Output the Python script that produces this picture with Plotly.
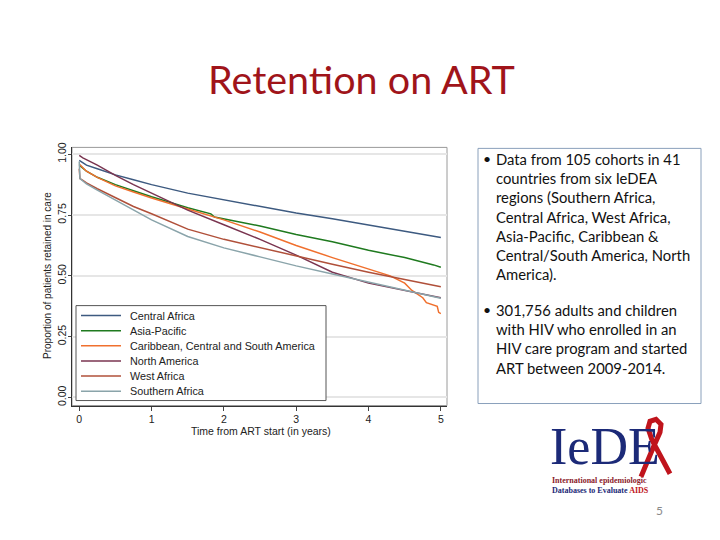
import plotly.graph_objects as go

W, H = 720, 540

# ---- data ----
series_names = ["Central Africa", "Asia-Pacific", "Caribbean, Central and South America",
                "North America", "West Africa", "Southern Africa"]
series_colors = ["#3d5a80", "#1f7a1f", "#f0702e", "#7a3550", "#b0503a", "#8aa4aa"]

central_t = [0, 0.1, 0.25, 0.5, 0.75, 1, 1.5, 2, 2.5, 3, 3.5, 4, 4.5, 5]
central_v = [0.975, 0.955, 0.94, 0.915, 0.895, 0.875, 0.84, 0.812, 0.786, 0.758, 0.735, 0.71, 0.685, 0.658]

asia_t = [0, 0.1, 0.25, 0.5, 0.75, 1, 1.5, 1.82, 1.87, 2, 2.5, 3, 3.5, 4, 4.5, 4.9, 5]
asia_v = [0.955, 0.93, 0.905, 0.875, 0.85, 0.825, 0.78, 0.755, 0.742, 0.735, 0.705, 0.67, 0.64, 0.605, 0.575, 0.545, 0.535]

carib_t = [0, 0.1, 0.25, 0.5, 0.75, 1, 1.5, 2, 2.5, 3, 3.5, 4, 4.3, 4.5, 4.6, 4.75, 4.8, 4.95, 4.97, 5]
carib_v = [0.96, 0.93, 0.905, 0.87, 0.845, 0.82, 0.775, 0.73, 0.68, 0.625, 0.575, 0.53, 0.5, 0.47, 0.44, 0.41, 0.39, 0.375, 0.35, 0.345]

namer_t = [0, 0.05, 0.25, 0.5, 0.75, 1, 1.5, 2, 2.5, 3, 3.5, 4, 4.5, 5]
namer_v = [0.995, 0.985, 0.955, 0.913, 0.875, 0.84, 0.77, 0.71, 0.65, 0.585, 0.515, 0.47, 0.44, 0.41]

west_t = [0, 0.01, 0.05, 0.1, 0.25, 0.5, 0.75, 1, 1.5, 2, 2.5, 3, 3.5, 4, 4.5, 5]
west_v = [0.94, 0.9, 0.892, 0.882, 0.858, 0.822, 0.785, 0.755, 0.692, 0.65, 0.615, 0.582, 0.548, 0.515, 0.485, 0.455]

south_t = [0, 0.01, 0.05, 0.1, 0.25, 0.5, 0.75, 1, 1.5, 2, 2.5, 3, 3.5, 4, 4.5, 5]
south_v = [0.97, 0.9, 0.89, 0.878, 0.852, 0.812, 0.772, 0.73, 0.662, 0.615, 0.578, 0.541, 0.508, 0.475, 0.44, 0.408]

x_ticks = [0, 1, 2, 3, 4, 5]
y_ticks = [0, 0.25, 0.5, 0.75, 1.0]
y_ticklabels = ["0.00", "0.25", "0.50", "0.75", "1.00"]

bullets = [
    "Data from 105 cohorts in 41<br>countries from six IeDEA<br>regions (Southern Africa,<br>Central Africa, West Africa,<br>Asia-Pacific, Caribbean &amp;<br>Central/South America, North<br>America).",
    "301,756 adults and children<br>with HIV who enrolled in an<br>HIV care program and started<br>ART between 2009-2014.",
]

all_t = [central_t, asia_t, carib_t, namer_t, west_t, south_t]
all_v = [central_v, asia_v, carib_v, namer_v, west_v, south_v]


def fx(x):
    return x / W


def fy(y):
    return 1 - y / H


fig = go.Figure()
for name, col, t, v in zip(series_names, series_colors, all_t, all_v):
    fig.add_trace(go.Scatter(x=t, y=v, mode="lines", name=name,
                             line=dict(color=col, width=1.5)))

# plot area: px 72..447 horizontally, 144..405 vertically
fig.update_layout(
    width=W, height=H,
    margin=dict(l=0, r=0, t=0, b=0),
    paper_bgcolor="white", plot_bgcolor="white",
    font=dict(family="Liberation Sans, Arial, sans-serif", color="#222"),
    showlegend=False,
    xaxis=dict(domain=[fx(72), fx(447)], range=[-0.1, 5.085],
               tickvals=x_ticks, ticks="outside", ticklen=4, tickcolor="#444",
               showgrid=False, zeroline=False, showline=True, linecolor="#333",
               linewidth=1, tickfont=dict(size=10.5), fixedrange=True),
    yaxis=dict(domain=[fy(405), fy(144)], range=[-0.033, 1.028],
               tickvals=y_ticks, ticktext=y_ticklabels, tickangle=-90,
               ticks="outside", ticklen=3, tickcolor="#444", ticklabelstandoff=-2,
               showgrid=True, gridcolor="#e6e6e6", gridwidth=1.5,
               zeroline=False, showline=True, linecolor="#333", linewidth=1,
               tickfont=dict(size=10.5), fixedrange=True),
)

shapes = []
# plot frame (top / right)
shapes.append(dict(type="rect", xref="paper", yref="paper",
                   x0=fx(72), x1=fx(447), y0=fy(405), y1=fy(144),
                   line=dict(color="#9a9a9a", width=1), layer="below"))
# legend box
shapes.append(dict(type="rect", xref="paper", yref="paper",
                   x0=fx(76), x1=fx(326), y0=fy(400), y1=fy(304),
                   fillcolor="white", line=dict(color="#555", width=1)))
# text box border
shapes.append(dict(type="rect", xref="paper", yref="paper",
                   x0=fx(478), x1=fx(701), y0=fy(403), y1=fy(145),
                   line=dict(color="#8aa0bb", width=1)))

ann = []
for i, (name, col) in enumerate(zip(series_names, series_colors)):
    yy = 314 + i * 15.3
    shapes.append(dict(type="line", xref="paper", yref="paper",
                       x0=fx(81), x1=fx(121), y0=fy(yy), y1=fy(yy),
                       line=dict(color=col, width=1.5)))
    ann.append(dict(text=name, x=fx(128), y=fy(yy), xref="paper", yref="paper",
                    showarrow=False, xanchor="left", yanchor="middle",
                    font=dict(size=10.8, color="#222")))


def p(points):
    s = ""
    for i, (a, b) in enumerate(points):
        s += ("M" if i == 0 else "L") + f"{fx(a):.5f},{fy(b):.5f} "
    return s


# red ribbon of the logo
shapes.append(dict(type="path", xref="paper", yref="paper",
                   path=p([(641, 477), (653, 448), (660, 432), (661, 424), (656, 419),
                           (650, 421), (648, 428), (652, 440), (660, 455), (670, 474)]),
                   line=dict(color="#c0141c", width=5)))
fig.update_layout(shapes=shapes)

ann.append(dict(text="Retention on ART", x=fx(361), y=fy(74), xref="paper", yref="paper",
                showarrow=False, xanchor="center", yanchor="middle",
                font=dict(family="Lato, sans-serif", size=39.5, color="#a0141a")))
ann.append(dict(text="Proportion of patients retained in care", x=fx(48), y=fy(274),
                xref="paper", yref="paper", showarrow=False, textangle=-90,
                xanchor="center", yanchor="middle", font=dict(size=10, color="#222")))
ann.append(dict(text="Time from ART start (in years)", x=fx(261), y=fy(431),
                xref="paper", yref="paper", showarrow=False,
                xanchor="center", yanchor="middle", font=dict(size=10.5, color="#222")))

tops = [145, 297]
for txt, top in zip(bullets, tops):
    ann.append(dict(text="•", x=fx(481), y=fy(top), xref="paper", yref="paper",
                    showarrow=False, xanchor="left", yanchor="top",
                    font=dict(family="Lato, sans-serif", size=14, color="#111")))
    ann.append(dict(text=txt, x=fx(494), y=fy(top), xref="paper", yref="paper",
                    showarrow=False, xanchor="left", yanchor="top", align="left",
                    font=dict(family="Lato, sans-serif", size=14.8, color="#111")))

# logo texts
ann.append(dict(text="IeDE", x=fx(548), y=fy(477), xref="paper", yref="paper",
                showarrow=False, xanchor="left", yanchor="bottom",
                font=dict(family="Liberation Serif, serif", size=52, color="#1c2a78")))
ann.append(dict(text="<b>International epidemiologic</b>", x=fx(550), y=fy(481),
                xref="paper", yref="paper", showarrow=False, xanchor="left", yanchor="middle",
                font=dict(family="Liberation Serif, serif", size=8, color="#8b1a2a")))
ann.append(dict(text="<b>Databases to Evaluate <span style='color:#c0141c'>AIDS</span></b>",
                x=fx(550), y=fy(491), xref="paper", yref="paper", showarrow=False,
                xanchor="left", yanchor="middle",
                font=dict(family="Liberation Serif, serif", size=8, color="#1c2a78")))
ann.append(dict(text="5", x=fx(659), y=fy(511), xref="paper", yref="paper",
                showarrow=False, xanchor="center", yanchor="middle",
                font=dict(family="Lato, sans-serif", size=12, color="#8a8a8a")))
fig.update_layout(annotations=ann)

fig.write_html("out.html", config={"displayModeBar": False},
               post_script="document.body.style.margin='0px';")
